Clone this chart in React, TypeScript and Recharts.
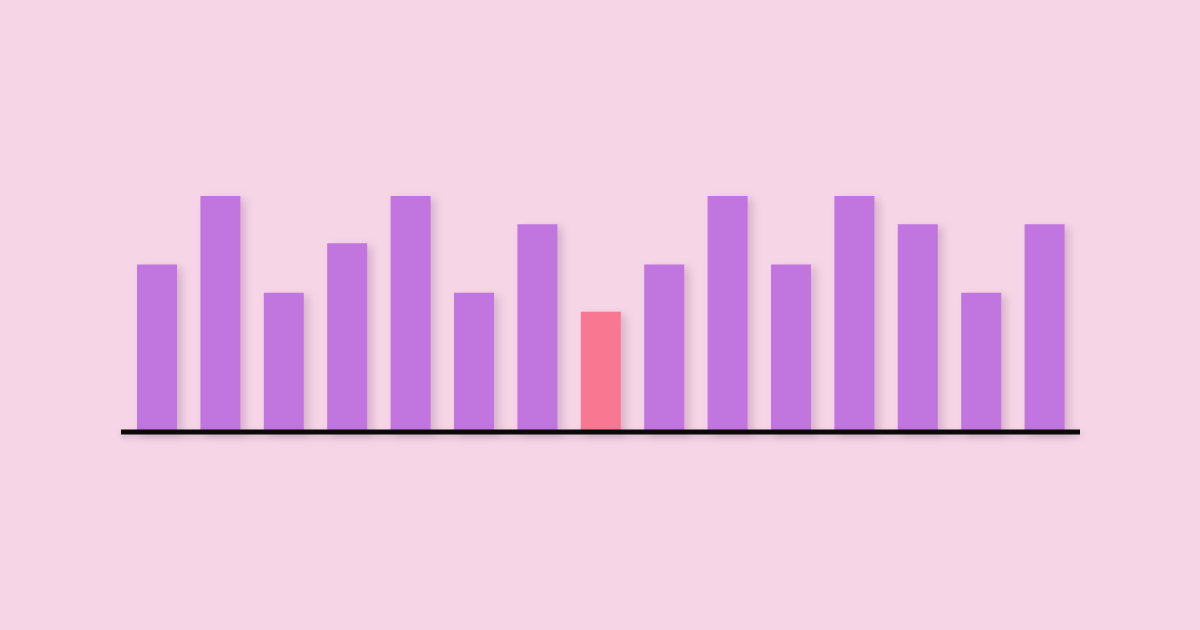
import { BarChart, Bar, XAxis, YAxis, Cell, ReferenceLine } from 'recharts';

// 15 columns, values (tallest = 100)
const categories = ['1', '2', '3', '4', '5', '6', '7', '8', '9', '10', '11', '12', '13', '14', '15'];
const values = [71, 100, 59, 80, 100, 59, 88, 51, 71, 100, 71, 100, 88, 59, 88];
const highlighted = ['8'];

const BG = '#f6d6e6';
const PURPLE = '#c076de';
const CORAL = '#f87892';

const data = categories.map((name, i) => ({ name, value: values[i] }));

export default function App() {
  return (
    <div style={{ width: 1200, height: 630, background: BG, position: 'absolute', top: 0, left: 0 }}>
      <style>{'body{margin:0;background:' + BG + ';}'}</style>
      <BarChart
        width={1200}
        height={630}
        data={data}
        margin={{ top: 196, right: 120, bottom: 198, left: 121 }}
        barSize={40}
      >
        <XAxis dataKey="name" hide padding={{ left: 4, right: 4 }} />
        <YAxis hide domain={[0, 100]} />
        <Bar dataKey="value" isAnimationActive={false}>
          {data.map((d) => (
            <Cell
              key={d.name}
              fill={highlighted.includes(d.name) ? CORAL : PURPLE}
              style={{ filter: 'drop-shadow(5px 3px 4px rgba(110,50,110,0.22))' }}
            />
          ))}
        </Bar>
        {/* black baseline */}
        <ReferenceLine
          y={0}
          stroke="#0a0a0a"
          strokeWidth={5}
          style={{ filter: 'drop-shadow(0px 3px 3px rgba(90,40,80,0.2))' }}
        />
      </BarChart>
    </div>
  );
}
